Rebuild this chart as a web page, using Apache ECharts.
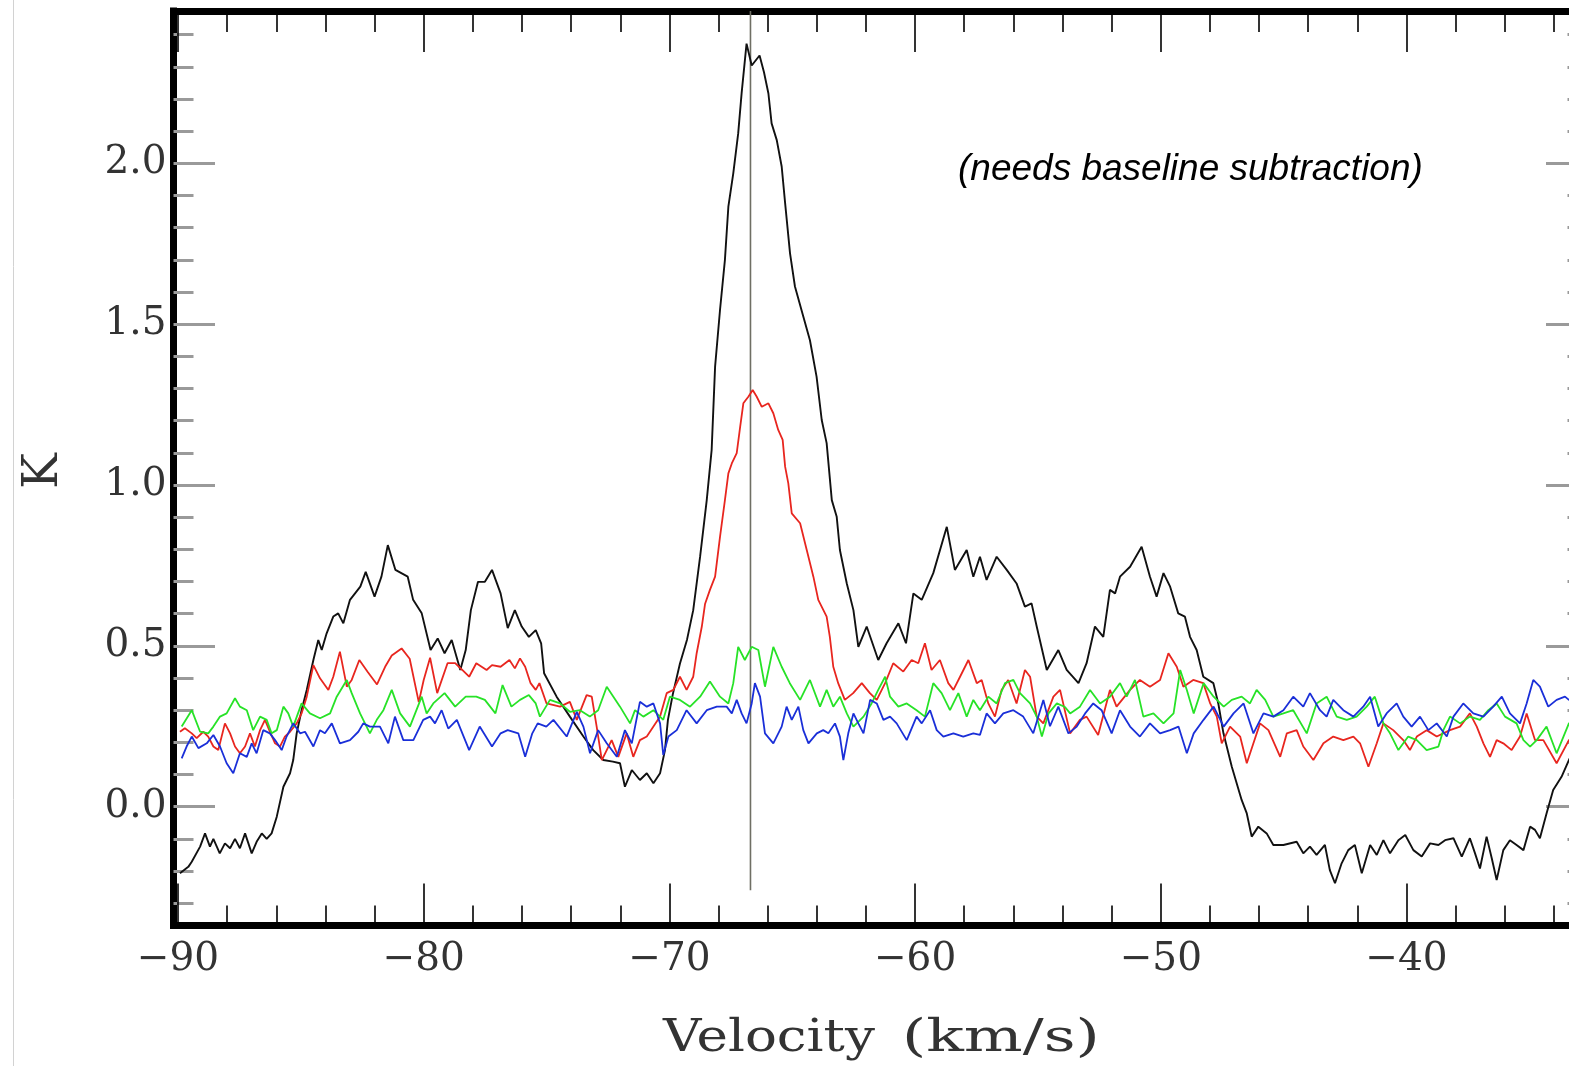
<!DOCTYPE html>
<html>
<head>
<meta charset="utf-8">
<script src="https://cdn.jsdelivr.net/npm/echarts@6/dist/echarts.min.js"></script>
<style>
html,body{margin:0;padding:0;background:#fff;overflow:hidden;width:1569px;height:1066px;}
#chart{position:absolute;left:0;top:0;width:1610px;height:1066px;}
</style>
</head>
<body>
<div id="chart"></div>
<script>
// ---------------- data: [velocity km/s, antenna temperature K] ----------------
const blackPts = [[-89.92,-0.207],[-89.58,-0.187],[-89.44,-0.171],[-89.10,-0.124],[-88.90,-0.083],[-88.70,-0.124],[-88.56,-0.100],[-88.30,-0.145],[-88.09,-0.114],[-87.88,-0.129],[-87.68,-0.100],[-87.48,-0.129],[-87.27,-0.083],[-87.00,-0.145],[-86.80,-0.109],[-86.59,-0.083],[-86.39,-0.100],[-86.19,-0.083],[-85.98,-0.031],[-85.71,0.062],[-85.44,0.104],[-85.31,0.145],[-85.17,0.228],[-84.97,0.300],[-84.76,0.363],[-84.49,0.456],[-84.29,0.518],[-84.15,0.487],[-83.95,0.539],[-83.68,0.591],[-83.48,0.601],[-83.27,0.570],[-83.00,0.643],[-82.58,0.684],[-82.36,0.730],[-82.00,0.653],[-81.72,0.715],[-81.46,0.813],[-81.15,0.736],[-80.65,0.715],[-80.43,0.643],[-80.08,0.601],[-79.72,0.487],[-79.43,0.523],[-79.15,0.477],[-78.86,0.518],[-78.51,0.425],[-78.29,0.487],[-78.08,0.611],[-77.79,0.699],[-77.51,0.699],[-77.22,0.736],[-76.87,0.663],[-76.58,0.555],[-76.29,0.611],[-76.01,0.560],[-75.72,0.528],[-75.44,0.549],[-75.22,0.508],[-75.10,0.415],[-74.59,0.342],[-74.05,0.280],[-73.50,0.218],[-73.10,0.176],[-72.69,0.145],[-72.30,0.140],[-72.01,0.135],[-71.81,0.062],[-71.53,0.114],[-71.20,0.083],[-70.92,0.104],[-70.65,0.073],[-70.38,0.104],[-70.18,0.176],[-70.06,0.270],[-69.86,0.350],[-69.57,0.445],[-69.28,0.520],[-69.03,0.611],[-68.75,0.777],[-68.48,0.953],[-68.28,1.109],[-68.14,1.368],[-67.94,1.544],[-67.74,1.700],[-67.60,1.865],[-67.40,1.969],[-67.20,2.093],[-67.06,2.218],[-66.86,2.372],[-66.65,2.304],[-66.33,2.335],[-66.15,2.283],[-65.97,2.217],[-65.84,2.124],[-65.63,2.072],[-65.43,1.990],[-65.29,1.876],[-65.09,1.720],[-64.89,1.617],[-64.55,1.524],[-64.28,1.450],[-64.01,1.337],[-63.80,1.202],[-63.60,1.130],[-63.39,0.953],[-63.19,0.901],[-63.06,0.798],[-62.78,0.694],[-62.51,0.611],[-62.31,0.497],[-61.97,0.560],[-61.50,0.456],[-61.16,0.508],[-60.68,0.570],[-60.37,0.508],[-60.07,0.663],[-59.73,0.643],[-59.26,0.726],[-58.71,0.870],[-58.38,0.736],[-57.90,0.798],[-57.63,0.715],[-57.36,0.777],[-57.09,0.705],[-56.68,0.777],[-56.27,0.736],[-55.87,0.694],[-55.53,0.622],[-55.26,0.632],[-55.05,0.560],[-54.64,0.425],[-54.17,0.487],[-53.83,0.425],[-53.35,0.384],[-53.02,0.446],[-52.68,0.560],[-52.34,0.528],[-52.07,0.674],[-51.86,0.663],[-51.66,0.715],[-51.25,0.746],[-50.78,0.808],[-50.44,0.715],[-50.17,0.653],[-49.89,0.726],[-49.62,0.684],[-49.29,0.601],[-49.02,0.591],[-48.81,0.528],[-48.54,0.487],[-48.27,0.404],[-47.86,0.384],[-47.66,0.321],[-47.45,0.228],[-47.11,0.124],[-46.71,0.021],[-46.50,-0.021],[-46.30,-0.093],[-46.03,-0.062],[-45.69,-0.083],[-45.42,-0.119],[-45.01,-0.119],[-44.47,-0.109],[-44.20,-0.145],[-43.93,-0.124],[-43.66,-0.150],[-43.32,-0.119],[-43.12,-0.197],[-42.91,-0.238],[-42.64,-0.176],[-42.37,-0.135],[-42.10,-0.119],[-41.82,-0.207],[-41.48,-0.119],[-41.21,-0.150],[-40.94,-0.104],[-40.67,-0.145],[-40.33,-0.104],[-40.05,-0.088],[-39.72,-0.135],[-39.38,-0.155],[-39.04,-0.114],[-38.70,-0.119],[-38.43,-0.104],[-38.09,-0.098],[-37.75,-0.155],[-37.42,-0.098],[-37.21,-0.145],[-37.01,-0.192],[-36.74,-0.093],[-36.53,-0.160],[-36.33,-0.228],[-36.06,-0.135],[-35.79,-0.104],[-35.52,-0.119],[-35.24,-0.135],[-34.97,-0.062],[-34.77,-0.072],[-34.57,-0.098],[-34.30,-0.021],[-34.03,0.052],[-33.69,0.093],[-33.39,0.145],[-33.00,0.210],[-32.60,0.260]];

const redPts = [[-89.92,0.233],[-89.72,0.244],[-89.44,0.228],[-89.24,0.213],[-88.97,0.233],[-88.77,0.218],[-88.56,0.187],[-88.36,0.176],[-88.09,0.259],[-87.88,0.228],[-87.68,0.187],[-87.48,0.166],[-87.27,0.187],[-87.07,0.228],[-86.87,0.187],[-86.66,0.238],[-86.46,0.270],[-86.26,0.233],[-86.05,0.197],[-85.85,0.187],[-85.65,0.218],[-85.44,0.233],[-85.17,0.259],[-84.97,0.290],[-84.76,0.342],[-84.49,0.440],[-84.22,0.399],[-83.88,0.363],[-83.68,0.404],[-83.41,0.482],[-83.13,0.373],[-82.93,0.394],[-82.62,0.456],[-82.27,0.418],[-81.90,0.380],[-81.57,0.435],[-81.30,0.470],[-80.90,0.492],[-80.57,0.460],[-80.20,0.325],[-80.00,0.394],[-79.74,0.463],[-79.45,0.353],[-79.03,0.446],[-78.72,0.446],[-78.43,0.425],[-78.15,0.404],[-77.86,0.446],[-77.44,0.425],[-77.22,0.440],[-76.87,0.435],[-76.51,0.456],[-76.29,0.430],[-76.08,0.461],[-75.87,0.435],[-75.65,0.384],[-75.44,0.363],[-75.29,0.384],[-75.00,0.321],[-74.45,0.311],[-74.05,0.326],[-73.77,0.270],[-73.37,0.347],[-73.16,0.342],[-72.96,0.249],[-72.75,0.145],[-72.55,0.176],[-72.35,0.207],[-72.08,0.155],[-71.74,0.228],[-71.47,0.155],[-71.20,0.207],[-70.92,0.218],[-70.65,0.249],[-70.38,0.280],[-70.11,0.353],[-69.84,0.363],[-69.57,0.404],[-69.30,0.363],[-69.03,0.404],[-68.89,0.477],[-68.68,0.560],[-68.55,0.630],[-68.35,0.674],[-68.14,0.715],[-67.94,0.839],[-67.74,0.953],[-67.60,1.036],[-67.46,1.067],[-67.26,1.099],[-67.12,1.181],[-66.99,1.254],[-66.78,1.275],[-66.61,1.295],[-66.45,1.275],[-66.24,1.243],[-65.97,1.254],[-65.77,1.223],[-65.57,1.171],[-65.39,1.140],[-65.29,1.057],[-65.16,1.005],[-65.02,0.912],[-64.68,0.881],[-64.41,0.798],[-64.14,0.715],[-63.94,0.643],[-63.60,0.591],[-63.47,0.528],[-63.33,0.435],[-63.13,0.384],[-62.86,0.332],[-62.52,0.353],[-62.17,0.384],[-61.84,0.353],[-61.56,0.332],[-61.22,0.384],[-60.89,0.446],[-60.48,0.420],[-60.14,0.456],[-59.87,0.446],[-59.60,0.508],[-59.33,0.425],[-58.99,0.456],[-58.65,0.384],[-58.44,0.363],[-58.17,0.404],[-57.83,0.456],[-57.49,0.384],[-57.29,0.394],[-57.02,0.321],[-56.75,0.280],[-56.48,0.363],[-56.21,0.394],[-55.87,0.321],[-55.53,0.425],[-55.32,0.404],[-55.05,0.280],[-54.78,0.259],[-54.37,0.342],[-54.10,0.363],[-53.69,0.228],[-53.29,0.270],[-53.02,0.280],[-52.55,0.223],[-52.07,0.363],[-51.80,0.311],[-51.25,0.363],[-50.85,0.394],[-50.44,0.373],[-50.03,0.394],[-49.69,0.477],[-49.35,0.435],[-49.08,0.373],[-48.68,0.394],[-48.27,0.384],[-47.99,0.321],[-47.72,0.280],[-47.52,0.197],[-47.18,0.249],[-46.77,0.218],[-46.50,0.135],[-46.23,0.197],[-45.96,0.259],[-45.62,0.238],[-45.14,0.155],[-44.87,0.228],[-44.47,0.238],[-44.20,0.187],[-43.79,0.145],[-43.38,0.197],[-42.98,0.218],[-42.57,0.207],[-42.16,0.218],[-41.89,0.197],[-41.55,0.124],[-41.21,0.197],[-40.94,0.259],[-40.54,0.238],[-40.13,0.207],[-39.86,0.176],[-39.58,0.218],[-39.18,0.238],[-38.77,0.218],[-38.23,0.238],[-37.82,0.249],[-37.42,0.290],[-37.14,0.249],[-36.87,0.197],[-36.60,0.155],[-36.33,0.207],[-36.06,0.197],[-35.72,0.176],[-35.38,0.218],[-35.11,0.290],[-34.77,0.207],[-34.43,0.207],[-33.89,0.135],[-33.39,0.207],[-32.60,0.230]];

const greenPts = [[-89.85,0.249],[-89.44,0.300],[-89.10,0.233],[-88.77,0.228],[-88.56,0.249],[-88.29,0.280],[-88.02,0.290],[-87.68,0.337],[-87.48,0.311],[-87.20,0.300],[-86.94,0.238],[-86.66,0.280],[-86.39,0.270],[-86.19,0.228],[-85.98,0.238],[-85.71,0.311],[-85.51,0.290],[-85.31,0.249],[-84.97,0.321],[-84.63,0.290],[-84.22,0.275],[-83.81,0.290],[-83.54,0.342],[-83.13,0.394],[-82.93,0.353],[-82.59,0.290],[-82.19,0.228],[-81.91,0.270],[-81.64,0.300],[-81.30,0.363],[-80.96,0.290],[-80.56,0.249],[-80.08,0.342],[-79.88,0.290],[-79.61,0.321],[-79.15,0.353],[-78.72,0.311],[-78.29,0.342],[-77.86,0.342],[-77.51,0.332],[-77.08,0.290],[-76.79,0.378],[-76.43,0.311],[-76.08,0.332],[-75.72,0.347],[-75.44,0.321],[-75.27,0.280],[-74.86,0.332],[-74.45,0.321],[-74.05,0.295],[-73.64,0.300],[-73.24,0.280],[-72.90,0.300],[-72.55,0.373],[-72.28,0.342],[-72.01,0.311],[-71.60,0.259],[-71.40,0.300],[-71.06,0.280],[-70.65,0.300],[-70.25,0.270],[-69.98,0.342],[-69.57,0.332],[-69.16,0.311],[-68.75,0.342],[-68.35,0.389],[-67.94,0.342],[-67.60,0.321],[-67.40,0.384],[-67.20,0.497],[-66.93,0.456],[-66.65,0.497],[-66.38,0.487],[-66.11,0.373],[-65.77,0.497],[-65.43,0.435],[-65.10,0.384],[-64.68,0.332],[-64.28,0.394],[-63.87,0.311],[-63.60,0.363],[-63.33,0.311],[-63.06,0.342],[-62.78,0.290],[-62.51,0.249],[-62.10,0.280],[-61.77,0.321],[-61.50,0.363],[-61.22,0.404],[-61.02,0.342],[-60.68,0.311],[-60.34,0.321],[-59.94,0.300],[-59.60,0.280],[-59.26,0.384],[-58.92,0.353],[-58.58,0.300],[-58.24,0.353],[-57.90,0.280],[-57.63,0.332],[-57.36,0.300],[-57.02,0.342],[-56.68,0.321],[-56.34,0.384],[-56.00,0.394],[-55.73,0.353],[-55.32,0.321],[-55.05,0.280],[-54.84,0.218],[-54.57,0.290],[-54.23,0.321],[-53.90,0.310],[-53.69,0.290],[-53.29,0.311],[-52.88,0.363],[-52.47,0.321],[-52.07,0.342],[-51.66,0.384],[-51.39,0.342],[-51.05,0.394],[-50.71,0.280],[-50.30,0.290],[-49.89,0.259],[-49.48,0.290],[-49.21,0.425],[-48.94,0.363],[-48.66,0.290],[-48.26,0.384],[-47.85,0.342],[-47.44,0.311],[-47.11,0.332],[-46.71,0.342],[-46.37,0.321],[-46.10,0.363],[-45.75,0.332],[-45.42,0.280],[-45.01,0.290],[-44.61,0.300],[-44.06,0.228],[-43.66,0.321],[-43.25,0.342],[-42.84,0.280],[-42.43,0.270],[-42.03,0.280],[-41.62,0.311],[-41.29,0.342],[-40.94,0.259],[-40.67,0.228],[-40.33,0.176],[-39.93,0.218],[-39.58,0.207],[-39.18,0.176],[-38.70,0.187],[-38.50,0.238],[-38.23,0.280],[-37.82,0.259],[-37.42,0.280],[-37.01,0.270],[-36.67,0.300],[-36.33,0.321],[-35.99,0.280],[-35.52,0.259],[-35.24,0.207],[-34.97,0.187],[-34.70,0.207],[-34.30,0.249],[-33.89,0.166],[-33.39,0.259],[-32.60,0.280]];

const bluePts = [[-89.85,0.150],[-89.65,0.187],[-89.44,0.218],[-89.17,0.182],[-88.83,0.197],[-88.56,0.223],[-88.29,0.187],[-88.02,0.135],[-87.75,0.104],[-87.48,0.166],[-87.20,0.155],[-87.00,0.197],[-86.80,0.166],[-86.53,0.238],[-86.26,0.228],[-86.05,0.207],[-85.78,0.176],[-85.58,0.218],[-85.31,0.259],[-85.03,0.228],[-84.83,0.233],[-84.49,0.187],[-84.22,0.238],[-84.02,0.228],[-83.74,0.259],[-83.41,0.197],[-83.00,0.207],[-82.66,0.233],[-82.46,0.259],[-82.19,0.249],[-81.78,0.249],[-81.44,0.197],[-81.17,0.280],[-80.83,0.207],[-80.42,0.207],[-80.02,0.270],[-79.74,0.280],[-79.54,0.259],[-79.27,0.300],[-79.00,0.243],[-78.65,0.270],[-78.15,0.176],[-77.72,0.249],[-77.22,0.187],[-76.87,0.228],[-76.58,0.238],[-76.15,0.228],[-75.87,0.155],[-75.58,0.228],[-75.36,0.259],[-75.01,0.249],[-74.72,0.270],[-74.18,0.218],[-73.77,0.295],[-73.50,0.249],[-73.23,0.166],[-72.90,0.238],[-72.55,0.197],[-72.14,0.155],[-71.81,0.238],[-71.53,0.197],[-71.20,0.326],[-70.92,0.311],[-70.65,0.321],[-70.38,0.259],[-70.25,0.161],[-70.04,0.218],[-69.70,0.238],[-69.30,0.300],[-68.89,0.259],[-68.48,0.300],[-68.07,0.311],[-67.67,0.311],[-67.46,0.290],[-67.26,0.332],[-67.06,0.290],[-66.86,0.259],[-66.65,0.321],[-66.52,0.384],[-66.31,0.342],[-66.11,0.228],[-65.77,0.197],[-65.43,0.249],[-65.23,0.311],[-65.02,0.270],[-64.75,0.311],[-64.55,0.238],[-64.34,0.197],[-64.00,0.228],[-63.74,0.238],[-63.53,0.228],[-63.26,0.259],[-63.06,0.218],[-62.92,0.145],[-62.72,0.228],[-62.51,0.290],[-62.31,0.259],[-62.10,0.228],[-61.83,0.332],[-61.56,0.321],[-61.29,0.270],[-61.02,0.280],[-60.75,0.259],[-60.34,0.207],[-59.94,0.280],[-59.73,0.259],[-59.39,0.300],[-59.12,0.238],[-58.85,0.218],[-58.44,0.228],[-58.04,0.218],[-57.63,0.228],[-57.36,0.223],[-57.09,0.290],[-56.75,0.259],[-56.41,0.290],[-56.00,0.300],[-55.60,0.280],[-55.19,0.228],[-54.78,0.332],[-54.51,0.250],[-54.17,0.311],[-53.76,0.228],[-53.42,0.249],[-53.08,0.290],[-52.75,0.321],[-52.41,0.300],[-52.00,0.228],[-51.66,0.300],[-51.25,0.249],[-50.85,0.218],[-50.44,0.259],[-50.03,0.228],[-49.62,0.238],[-49.28,0.249],[-48.94,0.166],[-48.66,0.228],[-48.26,0.270],[-47.85,0.311],[-47.44,0.249],[-47.04,0.290],[-46.63,0.321],[-46.23,0.228],[-45.82,0.290],[-45.42,0.280],[-45.01,0.300],[-44.61,0.342],[-44.20,0.311],[-43.93,0.353],[-43.52,0.300],[-43.25,0.280],[-42.98,0.332],[-42.57,0.300],[-42.16,0.280],[-41.76,0.311],[-41.48,0.342],[-41.15,0.249],[-40.81,0.290],[-40.40,0.321],[-40.13,0.280],[-39.79,0.249],[-39.45,0.280],[-39.11,0.238],[-38.77,0.259],[-38.36,0.218],[-38.09,0.280],[-37.69,0.321],[-37.28,0.290],[-36.87,0.280],[-36.47,0.311],[-36.12,0.342],[-35.79,0.290],[-35.38,0.259],[-35.11,0.321],[-34.84,0.394],[-34.57,0.373],[-34.23,0.311],[-33.89,0.332],[-33.55,0.342],[-33.39,0.332],[-32.60,0.330]];

// reference velocity marker (vertical line): [velocity, K] end points
const refLinePts = [[-66.7, -0.26], [-66.7, 2.4734]];

// axis ticks / labels
const xMajorTicks = [-90,-80,-70,-60,-50,-40];
const xMinorTicks = [-88,-86,-84,-82,-78,-76,-74,-72,-68,-66,-64,-62,-58,-56,-54,-52,-48,-46,-44,-42,-38,-36,-34];
const yMajorTicks = [0,0.5,1,1.5,2];
const yMinorTicks = [-0.3,-0.2,-0.1,0.1,0.2,0.3,0.4,0.6,0.7,0.8,0.9,1.1,1.2,1.3,1.4,1.6,1.7,1.8,1.9,2.1,2.2,2.3,2.4];

const xTitle1 = 'Velocity';
const xTitle2 = '(km/s)';
const yTitle = 'K';
const note = '(needs baseline subtraction)';

// ---------------- layout ----------------
const X_MIN = -90.183, X_MAX = -32.633;
const Y_MIN = -0.3693, Y_MAX = 2.4734;
const SERIF = '"DejaVu Serif", "Liberation Serif", serif';
const TXT = '#333333';

const chart = echarts.init(document.getElementById('chart'), null, { renderer: 'canvas' });

const frameLine = { show: true, onZero: false, lineStyle: { color: '#000', width: 7, cap: 'square' } };
const noLine = { show: false, onZero: false };

function xAxisDef(pos, ticks, len, withLine, withLabels) {
  return {
    type: 'value', gridIndex: 0, position: pos, min: X_MIN, max: X_MAX,
    axisLine: withLine ? frameLine : noLine,
    axisTick: { show: true, inside: true, length: len, customValues: ticks,
      lineStyle: { color: '#000', width: 1.6 } },
    axisLabel: withLabels ? {
      show: true, customValues: ticks, margin: 34, verticalAlign: 'middle',
      fontFamily: SERIF, fontSize: 39, color: TXT,
      formatter: v => '\u2212' + Math.abs(Math.round(v))
    } : { show: false },
    splitLine: { show: false }, minorTick: { show: false }, minorSplitLine: { show: false }
  };
}
function yAxisDef(pos, ticks, len, withLine, withLabels) {
  return {
    type: 'value', gridIndex: 0, position: pos, min: Y_MIN, max: Y_MAX,
    axisLine: withLine ? frameLine : noLine,
    axisTick: { show: true, inside: true, length: len, customValues: ticks,
      lineStyle: { color: '#9a9a9a', width: 3 } },
    axisLabel: withLabels ? {
      show: true, customValues: ticks, margin: 7,
      fontFamily: SERIF, fontSize: 39, color: TXT,
      formatter: v => v.toFixed(1)
    } : { show: false },
    splitLine: { show: false }, minorTick: { show: false }, minorSplitLine: { show: false }
  };
}

const lineSeries = (name, pts, color, w, z) => ({
  name, type: 'line', data: pts, xAxisIndex: 0, yAxisIndex: 0,
  showSymbol: false, symbol: 'none', silent: true, z: z,
  lineStyle: { color, width: w }, itemStyle: { color }, emphasis: { disabled: true }
});

chart.setOption({
  animation: false,
  backgroundColor: '#ffffff',
  grid: { left: 173.5, top: 11, width: 1414, height: 914.5, containLabel: false, outerBoundsMode: 'none' },
  xAxis: [
    xAxisDef('bottom', xMajorTicks, 42, true, true),
    xAxisDef('bottom', xMinorTicks, 20, false, false),
    xAxisDef('top', xMajorTicks, 41, true, false),
    xAxisDef('top', xMinorTicks, 21, false, false)
  ],
  yAxis: [
    yAxisDef('left', yMajorTicks, 41.5, true, true),
    yAxisDef('left', yMinorTicks, 20, false, false),
    yAxisDef('right', yMajorTicks, 41.5, true, false),
    yAxisDef('right', yMinorTicks, 20, false, false)
  ],
  series: [
    lineSeries('ref', refLinePts, '#6f6f64', 1.6, 1),
    lineSeries('black', blackPts, '#111111', 1.9, 2),
    lineSeries('red', redPts, '#e8261f', 1.8, 3),
    lineSeries('green', greenPts, '#27e227', 1.8, 4),
    lineSeries('blue', bluePts, '#1a2fd8', 1.8, 5)
  ],
  graphic: [
    { type: 'line', shape: { x1: 13.5, y1: 0, x2: 13.5, y2: 1066 }, style: { stroke: '#d2d2d2', lineWidth: 1 }, silent: true },
    { type: 'text', x: 45, y: 471, rotation: Math.PI / 2, silent: true,
      style: { text: yTitle, fontFamily: SERIF, fontSize: 48, fill: TXT, align: 'center', verticalAlign: 'middle' } },
    { type: 'text', x: 663, y: 1039, scaleX: 1.18, silent: true,
      style: { text: xTitle1, fontFamily: SERIF, fontSize: 45, fill: TXT, align: 'left', verticalAlign: 'middle' } },
    { type: 'text', x: 902, y: 1039, scaleX: 1.38, silent: true,
      style: { text: xTitle2, fontFamily: SERIF, fontSize: 45, fill: TXT, align: 'left', verticalAlign: 'middle' } },
    { type: 'text', x: 958, y: 170, silent: true,
      style: { text: note, fontFamily: '"Liberation Sans", Arial, sans-serif', fontStyle: 'italic', fontSize: 37, fill: '#000', align: 'left', verticalAlign: 'middle' } }
  ]
});
</script>
</body>
</html>
